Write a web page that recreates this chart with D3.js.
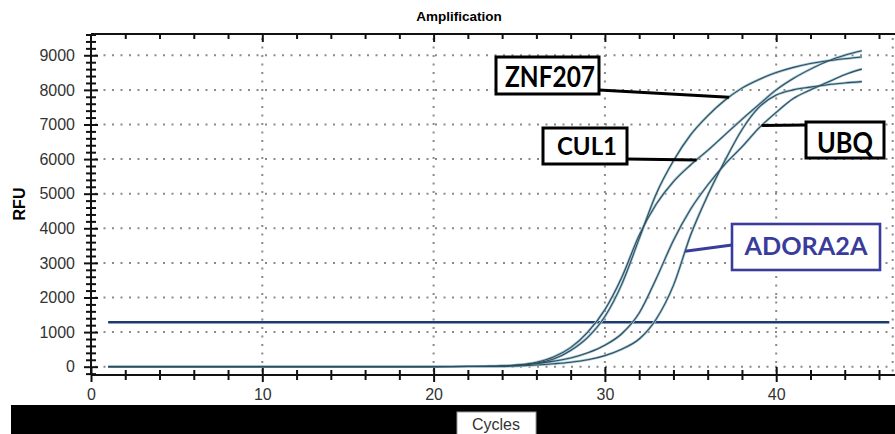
<!DOCTYPE html>
<html lang="en">
<head>
  <meta charset="UTF-8">
  <title>Amplification</title>
  <script src="https://d3js.org/d3.v7.min.js"></script>
  <style>
    body {
      margin: 0;
      background: #fff;
      font-family: 'Liberation Sans', Arial, sans-serif;
    }
    .axis text {
      font-size: 16px;
      fill: #333;
      font-family: 'Liberation Sans', Arial, sans-serif;
    }
    .axis path, .axis line {
      stroke: #111;
      stroke-width: 2;
    }
    .grid line {
      stroke: #8a8a8a;
      stroke-width: 2;
      stroke-dasharray: 2 6.5;
    }
    .tag text {
      font-family: Lato, 'Open Sans', sans-serif;
      font-weight: bold;
    }
  </style>
</head>
<body>
  <svg width="895" height="434"></svg>

  <script>
    // amplification curves (RFU per cycle)
    const cycles = [1,2,3,4,5,6,7,8,9,10,11,12,13,14,15,16,17,18,19,20,
      21,22,23,24,25,26,27,28,29,30,31,32,33,34,35,36,37,38,39,40,41,42,43,44,45];
    const znf207 = [0,0,0,0,0,0,0,0,0,0, 0,0,0,0,0,0,0,0,0,2,
      5,8,12,20,45,100,220,470,850,1450, 2400,3700,5000,5950,6700,7250,7700,8050,8300,8500,
      8650,8760,8840,8900,8950];
    const cul1 = [0,0,0,0,0,0,0,0,0,0, 0,0,0,0,0,0,0,0,0,2,
      5,10,15,25,55,130,280,550,1000,1650, 2600,3800,4700,5350,5830,6250,6700,7150,7580,8000,
      8330,8600,8830,9000,9130];
    const ubq = [0,0,0,0,0,0,0,0,0,0, 0,0,0,0,0,0,0,0,0,0,
      3,6,10,20,45,90,160,250,400,620, 960,1550,2550,3650,4550,5250,5850,6350,6900,7350,
      7750,8000,8220,8440,8600];
    const adora2a = [0,0,0,0,0,0,0,0,0,0, 0,0,0,0,0,0,0,0,0,0,
      2,4,6,10,25,50,85,130,200,320, 510,800,1380,2350,3800,4950,5950,6850,7500,7850,
      8000,8080,8150,8200,8240];
    const threshold = 1283;
    const thresholdSpan = [1, 46.6];

    const yTicks = [0, 1000, 2000, 3000, 4000, 5000, 6000, 7000, 8000, 9000];
    const xTicks = [0, 10, 20, 30, 40];
    const geneNames = ['ZNF207', 'CUL1', 'UBQ', 'ADORA2A'];
    // where each label's pointer touches its curve (cycle)
    const pointerCycles = [37.25, 35.35, 39.15, 34.68];

    const series = [znf207, cul1, ubq, adora2a];

    const svg = d3.select('svg');

    const x = d3.scaleLinear().domain([0, 46.8]).range([91, 892.7]);
    const y = d3.scaleLinear().domain([-240, 9615]).range([375, 34]);
    const x0 = x(0), yBot = y(-240), yTop = y(9615);

    // title
    svg.append('text')
      .attr('x', 459).attr('y', 21)
      .attr('text-anchor', 'middle')
      .style('font-size', '13.5px').style('font-weight', 'bold')
      .text('Amplification');

    // grid
    const grid = svg.append('g').attr('class', 'grid');
    grid.selectAll('.h').data(yTicks).enter().append('line')
      .attr('x1', x0 + 4).attr('x2', x(46.8))
      .attr('y1', d => y(d)).attr('y2', d => y(d));
    grid.selectAll('.v').data(xTicks.slice(1).concat([46.8])).enter().append('line')
      .attr('x1', d => x(d)).attr('x2', d => x(d))
      .attr('y1', yTop + 4).attr('y2', yBot);

    // top border with small ticks every 2 cycles
    const topAxis = svg.append('g').attr('class', 'axis')
      .attr('transform', `translate(0,${yTop})`)
      .call(d3.axisTop(x).tickValues(d3.range(2, 47, 2)).tickSize(5).tickFormat(() => ''));
    topAxis.select('.domain').attr('d', `M${x0},0H895`);
    topAxis.selectAll('.tick line')
      .attr('y1', 0).attr('y2', d => d % 10 === 0 ? 8 : 5);

    // left axis: ticks every 200, labels every 1000
    const yAxis = svg.append('g').attr('class', 'axis')
      .attr('transform', `translate(${x0},0)`)
      .call(d3.axisLeft(y).tickValues(d3.range(-200, 9601, 200))
        .tickFormat(d => yTicks.includes(d) ? d3.format('d')(d) : '')
        .tickSize(6).tickPadding(10));
    yAxis.select('.domain').attr('d', `M0,${yBot}V${yTop}`);
    yAxis.selectAll('.tick line')
      .attr('x1', d => d % 1000 === 0 ? 7 : 5)
      .attr('x2', d => d % 1000 === 0 ? -7 : -5);

    // bottom axis: ticks every 2 cycles, labels every 10
    const xAxis = svg.append('g').attr('class', 'axis')
      .attr('transform', `translate(0,${yBot})`)
      .call(d3.axisBottom(x).tickValues(d3.range(0, 47, 2))
        .tickFormat(d => xTicks.includes(d) ? d : '')
        .tickSize(7).tickPadding(7));
    xAxis.select('.domain').attr('d', `M${x0},0H895`);
    xAxis.selectAll('.tick line')
      .attr('y1', d => d % 10 === 0 ? -8 : -5)
      .attr('y2', d => d % 10 === 0 ? 7 : 5);

    // RFU label
    svg.append('text')
      .attr('transform', 'translate(25,204) rotate(-90)')
      .attr('text-anchor', 'middle')
      .style('font-size', '16px').style('font-weight', 'bold')
      .text('RFU');

    // threshold
    svg.append('line')
      .attr('x1', x(thresholdSpan[0])).attr('x2', x(thresholdSpan[1]))
      .attr('y1', y(threshold)).attr('y2', y(threshold))
      .attr('stroke', '#1d3b70').attr('stroke-width', 2.6);

    // curves
    const lineGen = d3.line()
      .x((d, i) => x(cycles[i]))
      .y(d => y(d))
      .curve(d3.curveMonotoneX);

    const curves = svg.append('g');
    series.forEach(s => {
      curves.append('path').attr('d', lineGen(s))
        .attr('fill', 'none').attr('stroke', '#9fc2d3').attr('stroke-width', 2.6);
    });
    series.forEach(s => {
      curves.append('path').attr('d', lineGen(s))
        .attr('fill', 'none').attr('stroke', '#2f4d5a').attr('stroke-width', 1.1);
    });

    // value on a curve at a fractional cycle
    function valueAt(s, c) {
      const i = Math.floor(c) - 1;
      const t = c - Math.floor(c);
      return s[i] + (s[i + 1] - s[i]) * t;
    }

    // labels (box + pointer)
    const tags = [
      { box: [496, 57, 103, 37], text: [550, 87, 90, 28], from: [599, 90], color: '#000', sw: 3 },
      { box: [543, 128, 84, 36], text: [587, 155, 60, 24], from: [627, 159], color: '#000', sw: 3 },
      { box: [806, 122, 78, 36], text: [845, 153, 56, 28], from: [806, 125], color: '#000', sw: 3 },
      { box: [732, 224, 148, 46], text: [806, 255, 123, 24], from: [732, 245], color: '#3a3c9c', sw: 2.6 }
    ];

    tags.forEach((t, i) => {
      const g = svg.append('g').attr('class', 'tag');
      const c = pointerCycles[i];
      g.append('line')
        .attr('x1', t.from[0]).attr('y1', t.from[1])
        .attr('x2', x(c)).attr('y2', y(valueAt(series[i], c)))
        .attr('stroke', t.color).attr('stroke-width', 3);
      g.append('rect')
        .attr('x', t.box[0]).attr('y', t.box[1])
        .attr('width', t.box[2]).attr('height', t.box[3])
        .attr('fill', '#fff').attr('stroke', t.color).attr('stroke-width', t.sw);
      g.append('text')
        .attr('x', t.text[0]).attr('y', t.text[1])
        .attr('text-anchor', 'middle')
        .attr('textLength', t.text[2]).attr('lengthAdjust', 'spacingAndGlyphs')
        .style('font-size', t.text[3] + 'px')
        .attr('fill', t.color)
        .text(geneNames[i]);
    });

    // black band at bottom with the axis title
    svg.append('rect')
      .attr('x', 11).attr('y', 405).attr('width', 884).attr('height', 29)
      .attr('fill', '#000');
    svg.append('rect')
      .attr('x', 457).attr('y', 412).attr('width', 79).attr('height', 24)
      .attr('fill', '#fff').attr('stroke', '#999').attr('stroke-width', 1);
    svg.append('text')
      .attr('x', 496).attr('y', 430)
      .attr('text-anchor', 'middle')
      .style('font-size', '16px').attr('fill', '#333')
      .text('Cycles');
  </script>
</body>
</html>
